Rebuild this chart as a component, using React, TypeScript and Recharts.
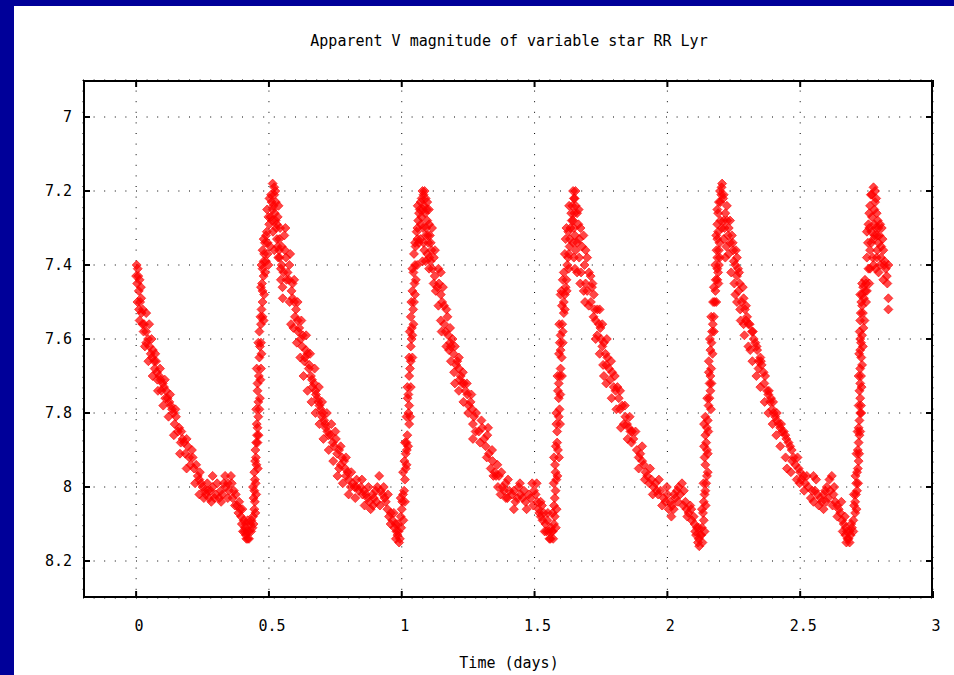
import { ScatterChart, Scatter, XAxis, YAxis, CartesianGrid } from "recharts";

// [time (days), V magnitude], one array per stretch
const decline1: [number, number][] = [
  [0.002, 7.40], [0.006, 7.41], [0.008, 7.43], [0.013, 7.44], [0.010, 7.47], [0.019, 7.49], [0.015, 7.50],
  [0.013, 7.55], [0.025, 7.52], [0.038, 7.53], [0.030, 7.56], [0.038, 7.58], [0.049, 7.56], [0.038, 7.61],
  [0.050, 7.62], [0.063, 7.63], [0.060, 7.65], [0.075, 7.66], [0.070, 7.68], [0.087, 7.70], [0.080, 7.71],
  [0.100, 7.72], [0.095, 7.74], [0.113, 7.74], [0.110, 7.76], [0.125, 7.77], [0.135, 7.79], [0.150, 7.81],
  [0.145, 7.83], [0.157, 7.85], [0.175, 7.87], [0.168, 7.88], [0.194, 7.89], [0.185, 7.91], [0.213, 7.92],
  [0.205, 7.94], [0.226, 7.94], [0.238, 7.98], [0.232, 7.97], [0.250, 8.00], [0.238, 8.02], [0.258, 8.01],
  [0.270, 8.01], [0.288, 8.00], [0.288, 7.97], [0.275, 8.03], [0.300, 8.02], [0.313, 8.03], [0.325, 8.02],
  [0.338, 8.00], [0.357, 7.97], [0.350, 8.01], [0.363, 8.03], [0.375, 8.02], [0.380, 8.05], [0.388, 8.04],
  [0.395, 8.08], [0.400, 8.06], [0.405, 8.09], [0.413, 8.10], [0.408, 8.12], [0.413, 8.13], [0.420, 8.14],
  [0.425, 8.12], [0.430, 8.10],
  [0.004, 7.45], [0.011, 7.52], [0.020, 7.53], [0.028, 7.58], [0.045, 7.60], [0.055, 7.64], [0.068, 7.66],
  [0.078, 7.69], [0.092, 7.71], [0.105, 7.73], [0.118, 7.76], [0.130, 7.78], [0.140, 7.80], [0.162, 7.84],
  [0.180, 7.88], [0.200, 7.92], [0.218, 7.95], [0.245, 7.99], [0.262, 8.02], [0.280, 8.01], [0.295, 8.03],
  [0.318, 8.01], [0.330, 7.99], [0.345, 7.99], [0.368, 8.01], [0.385, 8.07], [0.398, 8.10], [0.410, 8.11],
  [0.418, 8.12], [0.415, 8.14],
  [0.000, 7.43], [0.018, 7.46], [0.005, 7.50], [0.024, 7.56], [0.033, 7.62], [0.058, 7.60], [0.046, 7.66],
  [0.072, 7.64], [0.062, 7.70], [0.090, 7.68], [0.082, 7.74], [0.108, 7.71], [0.102, 7.78], [0.128, 7.75],
  [0.122, 7.81], [0.148, 7.79], [0.142, 7.86], [0.170, 7.85], [0.165, 7.91], [0.190, 7.87], [0.190, 7.95],
  [0.210, 7.90], [0.222, 7.99], [0.240, 7.96], [0.255, 8.03], [0.268, 7.99], [0.283, 8.04], [0.305, 7.99],
  [0.320, 8.04], [0.335, 7.97], [0.345, 8.03], [0.360, 7.99], [0.372, 8.05], [0.392, 8.06], [0.402, 8.12],
  [0.420, 8.09], [0.425, 8.14], [0.433, 8.12],
];

const rise1: [number, number][] = [
  [0.438, 8.11], [0.440, 8.08], [0.445, 8.06], [0.442, 8.03], [0.445, 8.01], [0.447, 7.98], [0.445, 7.96],
  [0.451, 7.92], [0.449, 7.90], [0.457, 7.88], [0.455, 7.86], [0.457, 7.84], [0.464, 7.79], [0.460, 7.81],
  [0.457, 7.74], [0.457, 7.72], [0.470, 7.68], [0.464, 7.65], [0.470, 7.61], [0.464, 7.58], [0.476, 7.54],
  [0.476, 7.50], [0.472, 7.52], [0.476, 7.47], [0.476, 7.41], [0.480, 7.43], [0.489, 7.39], [0.476, 7.36],
  [0.482, 7.37], [0.489, 7.32], [0.495, 7.34], [0.501, 7.29], [0.506, 7.27], [0.514, 7.25], [0.510, 7.23],
  [0.520, 7.21], [0.514, 7.18], [0.520, 7.19], [0.526, 7.23], [0.533, 7.27], [0.527, 7.30], [0.539, 7.33],
  [0.533, 7.35], [0.545, 7.41], [0.540, 7.38], [0.551, 7.46], [0.545, 7.44], [0.495, 7.37], [0.505, 7.35],
  [0.515, 7.31], [0.525, 7.28], [0.530, 7.33], [0.520, 7.36], [0.535, 7.38],
  [0.442, 8.10], [0.447, 8.04], [0.450, 7.99], [0.453, 7.94], [0.454, 7.83], [0.460, 7.77], [0.462, 7.70],
  [0.466, 7.62], [0.470, 7.56], [0.474, 7.45], [0.480, 7.39], [0.485, 7.34], [0.492, 7.31], [0.498, 7.27],
  [0.508, 7.21], [0.517, 7.24], [0.522, 7.26], [0.530, 7.29], [0.538, 7.36], [0.548, 7.40],
  [0.434, 8.09], [0.449, 8.07], [0.440, 8.00], [0.452, 8.02], [0.448, 7.93], [0.458, 7.95], [0.452, 7.88],
  [0.461, 7.86], [0.452, 7.79], [0.466, 7.76], [0.454, 7.68], [0.468, 7.71], [0.460, 7.61], [0.472, 7.64],
  [0.468, 7.54], [0.480, 7.55], [0.470, 7.46], [0.482, 7.48], [0.472, 7.40], [0.486, 7.42], [0.480, 7.33],
  [0.498, 7.40], [0.493, 7.25], [0.502, 7.22], [0.512, 7.28], [0.524, 7.20], [0.536, 7.24], [0.542, 7.30],
  [0.548, 7.35], [0.555, 7.42], [0.552, 7.49],
];

const decline2: [number, number][] = [
  [0.558, 7.32], [0.564, 7.38], [0.570, 7.42], [0.577, 7.40], [0.589, 7.45], [0.589, 7.49], [0.583, 7.56],
  [0.602, 7.52], [0.595, 7.50], [0.614, 7.57], [0.608, 7.55], [0.620, 7.60], [0.627, 7.59], [0.639, 7.63],
  [0.633, 7.66], [0.645, 7.64], [0.658, 7.70], [0.650, 7.68], [0.664, 7.73], [0.670, 7.72], [0.683, 7.76],
  [0.677, 7.75], [0.695, 7.79], [0.690, 7.78], [0.708, 7.82], [0.702, 7.80], [0.720, 7.85], [0.714, 7.84],
  [0.733, 7.86], [0.752, 7.87], [0.745, 7.89], [0.764, 7.90], [0.764, 7.95], [0.775, 7.92], [0.783, 7.93],
  [0.796, 7.96], [0.790, 7.97], [0.815, 7.99], [0.808, 8.00], [0.830, 8.00], [0.846, 8.00], [0.858, 8.01],
  [0.871, 8.03], [0.865, 8.02], [0.883, 8.06], [0.890, 8.02], [0.902, 8.01], [0.915, 7.97], [0.921, 8.01],
  [0.928, 8.02], [0.940, 8.04], [0.946, 8.06], [0.959, 8.07], [0.965, 8.09], [0.977, 8.10], [0.984, 8.13],
  [0.990, 8.15], [0.980, 8.12],
  [0.560, 7.36], [0.575, 7.44], [0.585, 7.47], [0.598, 7.54], [0.610, 7.58], [0.625, 7.62], [0.636, 7.65],
  [0.652, 7.67], [0.662, 7.71], [0.675, 7.74], [0.686, 7.77], [0.700, 7.81], [0.712, 7.83], [0.725, 7.86],
  [0.740, 7.88], [0.757, 7.91], [0.770, 7.94], [0.787, 7.95], [0.800, 7.98], [0.822, 8.00], [0.838, 8.01],
  [0.852, 8.02], [0.878, 8.04], [0.895, 8.03], [0.908, 8.00], [0.935, 8.03], [0.952, 8.08], [0.972, 8.11],
  [0.988, 8.12], [0.993, 8.14],
  [0.562, 7.30], [0.566, 7.44], [0.580, 7.37], [0.578, 7.50], [0.595, 7.44], [0.592, 7.57], [0.608, 7.50],
  [0.605, 7.61], [0.622, 7.55], [0.618, 7.65], [0.640, 7.59], [0.630, 7.70], [0.655, 7.64], [0.645, 7.74],
  [0.672, 7.68], [0.660, 7.77], [0.688, 7.73], [0.675, 7.80], [0.700, 7.77], [0.690, 7.83], [0.718, 7.80],
  [0.705, 7.87], [0.735, 7.83], [0.725, 7.90], [0.750, 7.85], [0.742, 7.93], [0.770, 7.89], [0.758, 7.97],
  [0.790, 7.92], [0.778, 7.99], [0.810, 7.96], [0.800, 8.02], [0.830, 7.98], [0.825, 8.03], [0.850, 7.98],
  [0.860, 8.05], [0.875, 8.00], [0.892, 8.05], [0.905, 8.04], [0.918, 8.05], [0.932, 8.00], [0.948, 8.02],
  [0.958, 8.10], [0.970, 8.07], [0.978, 8.14], [0.986, 8.10],
];

const rise2: [number, number][] = [
  [1.002, 8.04], [0.996, 8.08], [1.009, 8.01], [1.015, 7.95], [1.012, 7.98], [1.015, 7.91], [1.021, 7.86],
  [1.018, 7.88], [1.028, 7.83], [1.028, 7.78], [1.021, 7.73], [1.028, 7.70], [1.034, 7.66], [1.034, 7.62],
  [1.040, 7.59], [1.034, 7.54], [1.046, 7.50], [1.040, 7.47], [1.053, 7.44], [1.040, 7.41], [1.046, 7.37],
  [1.059, 7.33], [1.052, 7.35], [1.059, 7.30], [1.065, 7.26], [1.071, 7.23], [1.078, 7.20], [1.075, 7.22],
  [1.084, 7.24], [1.090, 7.22], [1.096, 7.28], [1.090, 7.32], [1.080, 7.30], [1.096, 7.37], [1.085, 7.36],
  [1.103, 7.41], [1.070, 7.33], [1.078, 7.39],
  [1.000, 8.06], [1.005, 8.02], [1.010, 7.93], [1.019, 7.90], [1.025, 7.80], [1.025, 7.75], [1.031, 7.68],
  [1.037, 7.60], [1.038, 7.57], [1.043, 7.52], [1.048, 7.45], [1.050, 7.40], [1.056, 7.31], [1.062, 7.28],
  [1.068, 7.25], [1.074, 7.27], [1.082, 7.21], [1.088, 7.26], [1.092, 7.30], [1.100, 7.34],
  [0.998, 8.11], [1.006, 8.09], [0.996, 8.03], [1.012, 8.04], [1.005, 7.96], [1.018, 7.94], [1.012, 7.88],
  [1.024, 7.89], [1.018, 7.81], [1.032, 7.81], [1.022, 7.76], [1.034, 7.73], [1.028, 7.65], [1.040, 7.65],
  [1.030, 7.58], [1.044, 7.56], [1.036, 7.50], [1.050, 7.48], [1.044, 7.42], [1.058, 7.40], [1.050, 7.34],
  [1.064, 7.34], [1.060, 7.24], [1.072, 7.29], [1.080, 7.25], [1.086, 7.20], [1.094, 7.25], [1.082, 7.34],
  [1.098, 7.32], [1.090, 7.39], [1.104, 7.38],
];

const decline3: [number, number][] = [
  [1.096, 7.23], [1.103, 7.29], [1.109, 7.34], [1.121, 7.38], [1.115, 7.41], [1.147, 7.42], [1.128, 7.47],
  [1.147, 7.48], [1.140, 7.45], [1.159, 7.51], [1.147, 7.55], [1.172, 7.54], [1.165, 7.58], [1.191, 7.60],
  [1.178, 7.63], [1.185, 7.62], [1.209, 7.66], [1.215, 7.68], [1.197, 7.69], [1.222, 7.70], [1.234, 7.72],
  [1.240, 7.74], [1.247, 7.75], [1.259, 7.77], [1.265, 7.79], [1.272, 7.81], [1.278, 7.85], [1.303, 7.84],
  [1.322, 7.86], [1.316, 7.89], [1.335, 7.95], [1.360, 7.94], [1.366, 7.97], [1.350, 7.96], [1.391, 7.99],
  [1.372, 8.02], [1.380, 8.00], [1.405, 8.01], [1.422, 8.01], [1.447, 8.02], [1.435, 8.03], [1.422, 8.06],
  [1.466, 8.04], [1.478, 8.02], [1.491, 7.99], [1.504, 8.02], [1.510, 8.04], [1.523, 8.04], [1.523, 8.08],
  [1.535, 8.07], [1.541, 8.10], [1.548, 8.09], [1.554, 8.12], [1.560, 8.14], [1.566, 8.12],
  [1.106, 7.32], [1.112, 7.36], [1.124, 7.43], [1.134, 7.46], [1.152, 7.50], [1.160, 7.56], [1.175, 7.59],
  [1.182, 7.61], [1.195, 7.64], [1.205, 7.67], [1.218, 7.71], [1.228, 7.72], [1.252, 7.78], [1.268, 7.83],
  [1.290, 7.85], [1.310, 7.87], [1.328, 7.91], [1.342, 7.93], [1.355, 7.97], [1.385, 8.01], [1.398, 8.03],
  [1.415, 8.02], [1.440, 8.00], [1.455, 8.03], [1.485, 8.03], [1.498, 8.01], [1.515, 8.06], [1.530, 8.09],
  [1.545, 8.12], [1.556, 8.14],
  [1.102, 7.25], [1.114, 7.30], [1.108, 7.39], [1.125, 7.36], [1.120, 7.45], [1.138, 7.41], [1.138, 7.51],
  [1.155, 7.46], [1.150, 7.58], [1.168, 7.52], [1.168, 7.62], [1.182, 7.57], [1.185, 7.66], [1.200, 7.62],
  [1.200, 7.72], [1.215, 7.65], [1.215, 7.74], [1.230, 7.69], [1.232, 7.77], [1.245, 7.72], [1.250, 7.80],
  [1.262, 7.75], [1.268, 7.87], [1.280, 7.80], [1.295, 7.88], [1.300, 7.82], [1.320, 7.92], [1.325, 7.84],
  [1.345, 7.97], [1.340, 7.90], [1.362, 8.00], [1.375, 7.96], [1.392, 8.03], [1.400, 7.98], [1.428, 8.04],
  [1.445, 7.99], [1.460, 8.01], [1.470, 8.06], [1.495, 8.05], [1.508, 7.99], [1.518, 8.07], [1.528, 8.05],
  [1.538, 8.12], [1.550, 8.07], [1.562, 8.11],
];

const rise3: [number, number][] = [
  [1.573, 8.10], [1.573, 8.05], [1.579, 8.01], [1.579, 7.96], [1.573, 7.92], [1.585, 7.88], [1.585, 7.85],
  [1.591, 7.81], [1.591, 7.76], [1.591, 7.72], [1.598, 7.68], [1.598, 7.63], [1.598, 7.59], [1.604, 7.56],
  [1.610, 7.53], [1.610, 7.50], [1.598, 7.48], [1.617, 7.46], [1.610, 7.42], [1.623, 7.40], [1.629, 7.37],
  [1.617, 7.33], [1.635, 7.30], [1.642, 7.24], [1.648, 7.22], [1.654, 7.20], [1.640, 7.28],
  [1.568, 8.12], [1.576, 8.08], [1.576, 8.03], [1.582, 7.98], [1.577, 7.94], [1.588, 7.90], [1.582, 7.83],
  [1.594, 7.79], [1.588, 7.74], [1.595, 7.70], [1.602, 7.65], [1.595, 7.61], [1.606, 7.58], [1.603, 7.51],
  [1.614, 7.48], [1.620, 7.44], [1.626, 7.38], [1.632, 7.35], [1.627, 7.31], [1.638, 7.26], [1.645, 7.28],
  [1.651, 7.22],
  [1.570, 8.14], [1.580, 8.11], [1.568, 8.07], [1.583, 8.06], [1.572, 7.99], [1.586, 7.97], [1.580, 7.89],
  [1.592, 7.92], [1.582, 7.80], [1.596, 7.83], [1.586, 7.70], [1.597, 7.75], [1.592, 7.64], [1.603, 7.70],
  [1.593, 7.56], [1.606, 7.61], [1.601, 7.47], [1.614, 7.52], [1.606, 7.44], [1.621, 7.47], [1.614, 7.37],
  [1.628, 7.41], [1.620, 7.30], [1.633, 7.33], [1.630, 7.24], [1.645, 7.20], [1.650, 7.26],
];

const decline4: [number, number][] = [
  [1.660, 7.26], [1.648, 7.30], [1.673, 7.30], [1.679, 7.35], [1.648, 7.38], [1.660, 7.34], [1.698, 7.38],
  [1.660, 7.42], [1.711, 7.43], [1.698, 7.47], [1.685, 7.47], [1.723, 7.48], [1.704, 7.51], [1.736, 7.52],
  [1.742, 7.56], [1.730, 7.55], [1.736, 7.59], [1.761, 7.61], [1.750, 7.60], [1.774, 7.65], [1.767, 7.64],
  [1.761, 7.70], [1.792, 7.69], [1.798, 7.73], [1.785, 7.71], [1.817, 7.76], [1.830, 7.78], [1.842, 7.81],
  [1.836, 7.83], [1.861, 7.85], [1.867, 7.85], [1.855, 7.84], [1.898, 7.91], [1.911, 7.94], [1.892, 7.95],
  [1.924, 7.97], [1.940, 7.98], [1.955, 7.99], [1.974, 8.01], [1.986, 8.03], [1.965, 8.02], [2.000, 8.02],
  [2.011, 8.04], [2.024, 8.06], [2.036, 8.01], [2.030, 8.03], [2.055, 7.99], [2.048, 8.02], [2.068, 8.04],
  [2.060, 8.05], [2.086, 8.05], [2.080, 8.07], [2.099, 8.08], [2.111, 8.11], [2.105, 8.12], [2.118, 8.14],
  [2.124, 8.13],
  [1.655, 7.24], [1.665, 7.29], [1.668, 7.33], [1.655, 7.36], [1.688, 7.40], [1.675, 7.42], [1.692, 7.45],
  [1.716, 7.46], [1.712, 7.50], [1.726, 7.52], [1.748, 7.57], [1.755, 7.62], [1.770, 7.67], [1.780, 7.68],
  [1.805, 7.74], [1.812, 7.73], [1.822, 7.79], [1.848, 7.83], [1.872, 7.87], [1.885, 7.90], [1.905, 7.93],
  [1.918, 7.96], [1.932, 7.99], [1.948, 8.00], [1.960, 8.01], [1.993, 8.04], [2.005, 8.06], [2.018, 8.05],
  [2.042, 8.00], [2.072, 8.06], [2.092, 8.09], [2.108, 8.13], [2.115, 8.15],
  [1.652, 7.32], [1.666, 7.25], [1.645, 7.34], [1.668, 7.38], [1.652, 7.41], [1.684, 7.32], [1.672, 7.45],
  [1.692, 7.36], [1.690, 7.50], [1.705, 7.42], [1.722, 7.54], [1.718, 7.45], [1.730, 7.60], [1.745, 7.52],
  [1.745, 7.64], [1.755, 7.56], [1.758, 7.67], [1.772, 7.60], [1.770, 7.72], [1.788, 7.66], [1.790, 7.76],
  [1.802, 7.70], [1.808, 7.79], [1.822, 7.74], [1.825, 7.84], [1.840, 7.78], [1.850, 7.87], [1.858, 7.81],
  [1.865, 7.88], [1.880, 7.85], [1.892, 7.92], [1.905, 7.89], [1.915, 7.98], [1.935, 7.95], [1.945, 8.02],
  [1.968, 7.98], [1.980, 8.05], [1.998, 8.00], [2.015, 8.08], [2.025, 8.02], [2.040, 8.04], [2.062, 8.01],
  [2.075, 8.08], [2.090, 8.06], [2.102, 8.10], [2.118, 8.11], [2.120, 8.16],
];

const rise4: [number, number][] = [
  [2.137, 8.09], [2.130, 8.11], [2.137, 8.04], [2.143, 8.01], [2.149, 7.97], [2.143, 7.94], [2.149, 7.90],
  [2.143, 7.86], [2.149, 7.84], [2.143, 7.81], [2.155, 7.78], [2.162, 7.74], [2.162, 7.70], [2.156, 7.66],
  [2.162, 7.63], [2.168, 7.58], [2.175, 7.54], [2.181, 7.47], [2.175, 7.46], [2.188, 7.41], [2.188, 7.38],
  [2.188, 7.33], [2.188, 7.29], [2.194, 7.23], [2.206, 7.18], [2.200, 7.23], [2.194, 7.36], [2.194, 7.40],
  [2.188, 7.44],
  [2.128, 8.13], [2.134, 8.07], [2.140, 8.02], [2.146, 7.99], [2.140, 7.92], [2.146, 7.88], [2.152, 7.82],
  [2.158, 7.76], [2.159, 7.72], [2.165, 7.68], [2.166, 7.61], [2.171, 7.56], [2.178, 7.50], [2.182, 7.44],
  [2.185, 7.36], [2.191, 7.31], [2.191, 7.26], [2.198, 7.20], [2.203, 7.21], [2.191, 7.42], [2.197, 7.38],
  [2.132, 8.15], [2.140, 8.12], [2.130, 8.06], [2.144, 8.05], [2.136, 7.99], [2.152, 7.96], [2.138, 7.89],
  [2.152, 7.91], [2.138, 7.83], [2.154, 7.85], [2.150, 7.76], [2.164, 7.79], [2.156, 7.69], [2.166, 7.72],
  [2.160, 7.60], [2.170, 7.64], [2.165, 7.54], [2.175, 7.58], [2.172, 7.50], [2.184, 7.50], [2.180, 7.40],
  [2.192, 7.45], [2.184, 7.32], [2.196, 7.34], [2.188, 7.25], [2.200, 7.28], [2.204, 7.19],
];

const decline5: [number, number][] = [
  [2.218, 7.26], [2.212, 7.28], [2.231, 7.30], [2.212, 7.33], [2.243, 7.32], [2.231, 7.37], [2.222, 7.35],
  [2.262, 7.38], [2.256, 7.40], [2.262, 7.43], [2.268, 7.47], [2.256, 7.48], [2.287, 7.49], [2.274, 7.52],
  [2.300, 7.54], [2.287, 7.56], [2.318, 7.58], [2.331, 7.61], [2.312, 7.63], [2.343, 7.66], [2.343, 7.68],
  [2.355, 7.67], [2.368, 7.70], [2.375, 7.74], [2.387, 7.77], [2.395, 7.79], [2.406, 7.81], [2.419, 7.83],
  [2.431, 7.85], [2.444, 7.86], [2.468, 7.90], [2.475, 7.92], [2.450, 7.95], [2.494, 7.95], [2.487, 7.98],
  [2.519, 7.99], [2.505, 7.98], [2.550, 7.97], [2.556, 8.01], [2.550, 8.04], [2.565, 8.02], [2.581, 8.04],
  [2.594, 8.01], [2.619, 7.97], [2.613, 8.01], [2.605, 8.03], [2.632, 8.04], [2.640, 8.05], [2.651, 8.07],
  [2.664, 8.10], [2.676, 8.12], [2.682, 8.14], [2.670, 8.13],
  [2.210, 7.22], [2.215, 7.30], [2.225, 7.28], [2.236, 7.34], [2.228, 7.32], [2.248, 7.36], [2.250, 7.39],
  [2.266, 7.41], [2.272, 7.45], [2.280, 7.50], [2.292, 7.52], [2.305, 7.56], [2.296, 7.55], [2.325, 7.60],
  [2.338, 7.63], [2.350, 7.65], [2.362, 7.69], [2.380, 7.75], [2.390, 7.76], [2.400, 7.80], [2.412, 7.82],
  [2.425, 7.84], [2.438, 7.85], [2.456, 7.88], [2.462, 7.89], [2.482, 7.94], [2.500, 7.96], [2.512, 7.97],
  [2.530, 8.00], [2.540, 8.03], [2.575, 8.03], [2.588, 8.02], [2.600, 8.00], [2.625, 8.02], [2.645, 8.06],
  [2.658, 8.09], [2.672, 8.11], [2.678, 8.14], [2.686, 8.12],
  [2.212, 7.21], [2.224, 7.24], [2.205, 7.30], [2.236, 7.28], [2.218, 7.38], [2.246, 7.34], [2.240, 7.42],
  [2.258, 7.36], [2.252, 7.45], [2.270, 7.42], [2.262, 7.50], [2.284, 7.46], [2.276, 7.55], [2.296, 7.51],
  [2.290, 7.59], [2.310, 7.56], [2.305, 7.62], [2.322, 7.58], [2.320, 7.66], [2.336, 7.62], [2.335, 7.70],
  [2.352, 7.66], [2.350, 7.73], [2.365, 7.72], [2.366, 7.77], [2.382, 7.74], [2.380, 7.80], [2.398, 7.77],
  [2.396, 7.83], [2.412, 7.80], [2.410, 7.86], [2.428, 7.83], [2.425, 7.89], [2.448, 7.87], [2.445, 7.92],
  [2.470, 7.93], [2.465, 7.96], [2.490, 7.92], [2.498, 7.99], [2.515, 8.01], [2.525, 7.97], [2.545, 8.01],
  [2.560, 7.98], [2.570, 8.05], [2.588, 8.06], [2.598, 8.04], [2.610, 7.98], [2.622, 8.05], [2.628, 8.00],
  [2.640, 8.08], [2.655, 8.04], [2.660, 8.12], [2.668, 8.08], [2.674, 8.15], [2.686, 8.15],
];

const rise5: [number, number][] = [
  [2.695, 8.11], [2.707, 8.07], [2.707, 8.04], [2.714, 8.01], [2.714, 7.96], [2.720, 7.93], [2.720, 7.88],
  [2.720, 7.84], [2.726, 7.80], [2.726, 7.76], [2.726, 7.72], [2.726, 7.68], [2.726, 7.63], [2.733, 7.59],
  [2.726, 7.60], [2.738, 7.57], [2.726, 7.55], [2.733, 7.51], [2.748, 7.50], [2.733, 7.48], [2.726, 7.48],
  [2.751, 7.47], [2.744, 7.44], [2.733, 7.45],
  [2.690, 8.13], [2.700, 8.09], [2.703, 8.05], [2.710, 8.02], [2.711, 7.99], [2.717, 7.95], [2.717, 7.90],
  [2.723, 7.86], [2.723, 7.82], [2.729, 7.78], [2.723, 7.74], [2.729, 7.70], [2.730, 7.65], [2.729, 7.61],
  [2.736, 7.53], [2.740, 7.49], [2.745, 7.47], [2.730, 7.50],
  [2.692, 8.10], [2.700, 8.12], [2.702, 8.02], [2.712, 8.06], [2.708, 7.97], [2.718, 7.99], [2.712, 7.91],
  [2.722, 7.91], [2.716, 7.85], [2.726, 7.85], [2.720, 7.78], [2.730, 7.80], [2.720, 7.70], [2.731, 7.73],
  [2.722, 7.64], [2.733, 7.67], [2.724, 7.58], [2.736, 7.62], [2.728, 7.53], [2.742, 7.55], [2.737, 7.46],
  [2.748, 7.45],
];

const lastPeak: [number, number][] = [
  [2.776, 7.19], [2.782, 7.20], [2.763, 7.24], [2.788, 7.26], [2.757, 7.29], [2.801, 7.29], [2.751, 7.31],
  [2.807, 7.30], [2.776, 7.33], [2.763, 7.36], [2.813, 7.36], [2.751, 7.38], [2.788, 7.38], [2.801, 7.40],
  [2.832, 7.40], [2.826, 7.43], [2.763, 7.41], [2.813, 7.44], [2.770, 7.27], [2.795, 7.34], [2.782, 7.23],
  [2.832, 7.49], [2.832, 7.52],
  [2.760, 7.26], [2.768, 7.31], [2.779, 7.29], [2.785, 7.30], [2.792, 7.28], [2.798, 7.32], [2.805, 7.35],
  [2.773, 7.38], [2.784, 7.41], [2.795, 7.42], [2.818, 7.39], [2.822, 7.41], [2.755, 7.34], [2.766, 7.21],
  [2.779, 7.25], [2.790, 7.36], [2.810, 7.33], [2.757, 7.41],
  [2.770, 7.21], [2.786, 7.22], [2.760, 7.30], [2.780, 7.32], [2.794, 7.30], [2.804, 7.38], [2.768, 7.34],
  [2.776, 7.40], [2.816, 7.40], [2.828, 7.45], [2.790, 7.32], [2.760, 7.45],
];

const xTicks = [0, 0.5, 1, 1.5, 2, 2.5, 3];
const yTicks = [7, 7.2, 7.4, 7.6, 7.8, 8, 8.2];

const points = [
  ...decline1, ...rise1, ...decline2, ...rise2, ...decline3, ...rise3,
  ...decline4, ...rise4, ...decline5, ...rise5, ...lastPeak,
].map(([t, v]) => ({ t, v }));

const FONT = "'DejaVu Sans Mono', 'Liberation Mono', monospace";
const PLOT_TOP = 80;
const PLOT_RIGHT = 933;
const TICK = 7;

function XTick(props: any) {
  const { x, y, payload } = props;
  return (
    <g>
      <line x1={x} y1={y} x2={x} y2={y - TICK} stroke="#000" strokeWidth={2} />
      <line x1={x} y1={PLOT_TOP} x2={x} y2={PLOT_TOP + TICK} stroke="#000" strokeWidth={2} />
      <text x={x + 3} y={y + 33} textAnchor="middle" fontFamily={FONT} fontSize={15} fill="#000">
        {String(payload.value)}
      </text>
    </g>
  );
}

function YTick(props: any) {
  const { x, y, payload } = props;
  return (
    <g>
      <line x1={x} y1={y} x2={x + TICK} y2={y} stroke="#000" strokeWidth={2} />
      <line x1={PLOT_RIGHT} y1={y} x2={PLOT_RIGHT - TICK} y2={y} stroke="#000" strokeWidth={2} />
      <text x={x - 11} y={y} textAnchor="end" dominantBaseline="central" fontFamily={FONT} fontSize={15} fill="#000">
        {String(payload.value)}
      </text>
    </g>
  );
}

function Diamond(props: any) {
  const { cx, cy } = props;
  const r = 4.5;
  return (
    <path
      d={`M${cx},${cy - r}L${cx + r},${cy}L${cx},${cy + r}L${cx - r},${cy}Z`}
      fill="#ff0000"
      fillOpacity={0.72}
      stroke="#ff0000"
      strokeOpacity={0.8}
      strokeWidth={0.8}
    />
  );
}

export default function App() {
  return (
    <div style={{ position: "absolute", left: 0, top: 0, width: 954, height: 675, background: "#000099", overflow: "hidden" }}>
      <div style={{ position: "absolute", left: 14, top: 6, width: 940, height: 669, background: "#fff" }} />
      <div style={{ position: "absolute", left: 0, top: 0 }}>
        <ScatterChart width={954} height={675} margin={{ top: 80, right: 21, bottom: 37, left: 23 }}>
          <CartesianGrid stroke="#000" strokeDasharray="1 9.6" />
          <XAxis
            dataKey="t"
            type="number"
            domain={[-0.2, 3]}
            ticks={xTicks}
            allowDataOverflow
            height={40}
            axisLine={false}
            tickLine={false}
            tickSize={0}
            tickMargin={0}
            tick={<XTick />}
            interval={0}
          />
          <YAxis
            dataKey="v"
            type="number"
            domain={[6.9, 8.3]}
            ticks={yTicks}
            reversed
            allowDataOverflow
            width={60}
            axisLine={false}
            tickLine={false}
            tickSize={0}
            tickMargin={0}
            tick={<YTick />}
            interval={0}
          />
          <Scatter data={points} shape={<Diamond />} isAnimationActive={false} />
        </ScatterChart>
      </div>
      <div
        style={{
          position: "absolute", left: 83, top: 80, width: 850, height: 518,
          border: "2px solid #000", boxSizing: "border-box", pointerEvents: "none",
        }}
      />
      <div style={{ position: "absolute", left: 14, width: 940, top: 32, textAlign: "center", fontFamily: FONT, fontSize: 15, lineHeight: "18px", color: "#000", paddingLeft: 50, boxSizing: "border-box" }}>
        Apparent V magnitude of variable star RR Lyr
      </div>
      <div style={{ position: "absolute", left: 14, width: 940, top: 654, textAlign: "center", fontFamily: FONT, fontSize: 15, lineHeight: "18px", color: "#000", paddingLeft: 50, boxSizing: "border-box" }}>
        Time (days)
      </div>
    </div>
  );
}
